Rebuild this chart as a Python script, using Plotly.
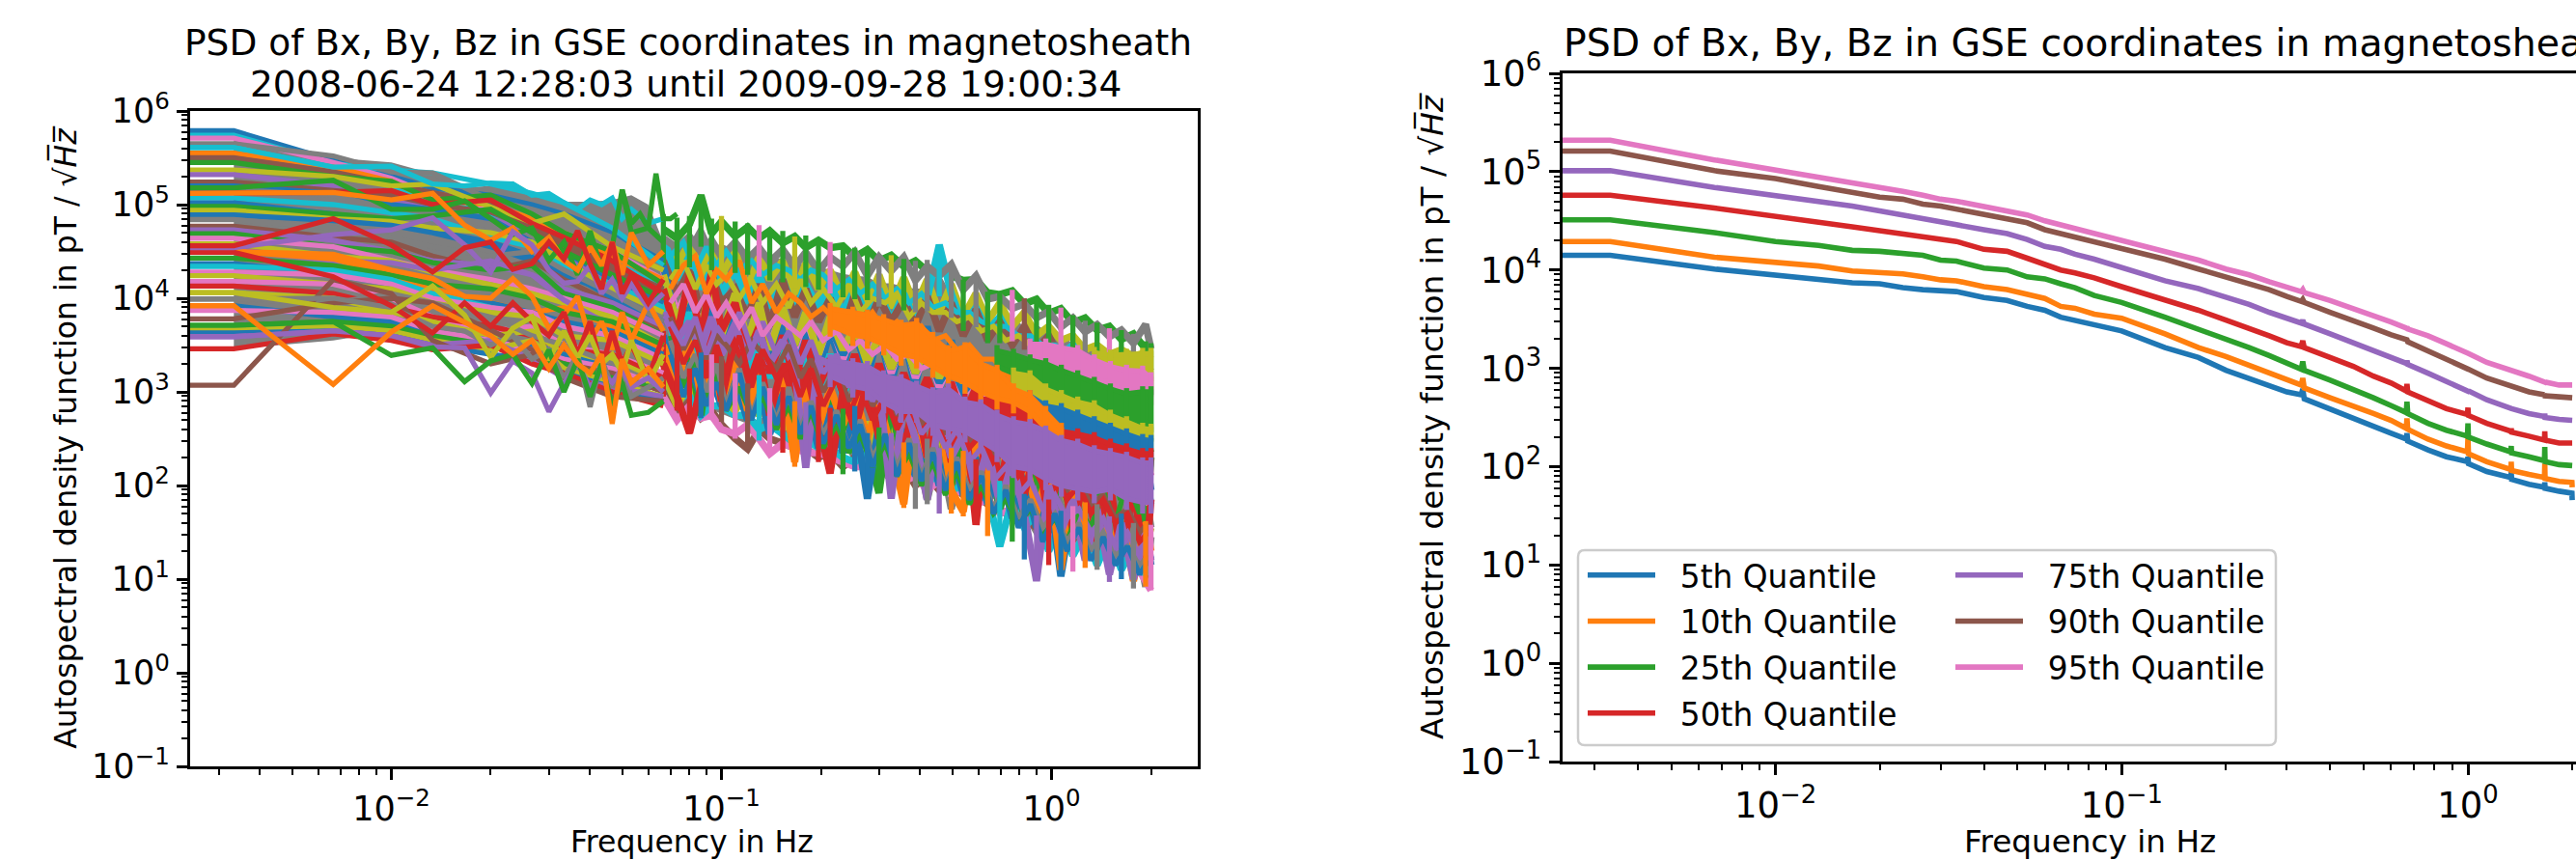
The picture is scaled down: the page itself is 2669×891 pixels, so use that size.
import plotly.graph_objects as go

W, H = 2669, 891
TAB = {"blue":"#1f77b4","orange":"#ff7f0e","green":"#2ca02c","red":"#d62728","purple":"#9467bd",
       "brown":"#8c564b","pink":"#e377c2","gray":"#7f7f7f","olive":"#bcbd22","cyan":"#17becf"}
EDGE_HZ = 0.0024      # the lines run flat to the left spine
BIN_HZ = 1/300

# ---------- right panel: quantiles, log10 of value, at frequency bin k ----------
K_Q = [1,2,3,4,5,6,7,8,9,10,12,14,16,18,20,22,25,30,40,50,60,70,80,90,99,100,101,120,140,160,180,199,200,201,230,260,299,300,301,340,399,400,401,450,499,500,501,550,599,600]
Q05 = [4.15,4.01,3.95,3.91,3.87,3.86,3.82,3.80,3.79,3.78,3.72,3.69,3.63,3.59,3.52,3.49,3.45,3.38,3.21,3.11,2.98,2.90,2.82,2.76,2.73,2.79,2.69,2.58,2.49,2.41,2.34,2.28,2.34,2.26,2.17,2.10,2.05,2.10,2.03,1.95,1.89,1.95,1.87,1.82,1.79,1.84,1.78,1.75,1.73,1.66]
Q10 = [4.29,4.13,4.07,4.04,3.99,3.98,3.96,3.93,3.90,3.89,3.83,3.80,3.75,3.71,3.63,3.61,3.55,3.51,3.35,3.21,3.12,3.03,2.95,2.88,2.83,2.90,2.80,2.70,2.62,2.54,2.47,2.39,2.49,2.38,2.28,2.21,2.15,2.30,2.13,2.05,1.97,2.05,1.96,1.92,1.89,2.03,1.88,1.85,1.84,1.79]
Q25 = [4.51,4.38,4.29,4.25,4.20,4.19,4.17,4.15,4.10,4.09,4.02,4.00,3.93,3.91,3.86,3.82,3.74,3.67,3.52,3.40,3.30,3.21,3.13,3.06,2.99,3.07,2.98,2.88,2.79,2.70,2.62,2.55,2.66,2.54,2.44,2.37,2.31,2.44,2.30,2.23,2.15,2.21,2.14,2.10,2.06,2.20,2.05,2.02,2.01,2.01]
Q50 = [4.76,4.63,4.54,4.48,4.44,4.40,4.37,4.34,4.32,4.29,4.21,4.19,4.12,4.06,4.00,3.97,3.92,3.83,3.70,3.59,3.49,3.41,3.33,3.26,3.22,3.28,3.21,3.11,3.02,2.92,2.85,2.77,2.84,2.76,2.67,2.59,2.53,2.60,2.52,2.44,2.36,2.39,2.35,2.31,2.27,2.36,2.27,2.24,2.24,2.24]
Q75 = [5.01,4.84,4.76,4.69,4.65,4.60,4.56,4.53,4.50,4.46,4.41,4.37,4.31,4.24,4.21,4.16,4.11,4.02,3.89,3.81,3.73,3.65,3.57,3.51,3.46,3.49,3.45,3.35,3.26,3.18,3.11,3.05,3.08,3.04,2.95,2.86,2.77,2.78,2.77,2.68,2.59,2.60,2.59,2.54,2.51,2.54,2.50,2.48,2.47,2.47]
Q90 = [5.21,5.01,4.93,4.85,4.79,4.74,4.72,4.67,4.65,4.62,4.57,4.53,4.48,4.41,4.37,4.33,4.28,4.21,4.11,4.01,3.93,3.86,3.80,3.73,3.68,3.70,3.67,3.57,3.49,3.41,3.34,3.28,3.29,3.27,3.18,3.09,2.99,3.00,2.99,2.90,2.82,2.83,2.82,2.76,2.73,2.74,2.72,2.71,2.70,2.70]
Q95 = [5.32,5.12,5.02,4.94,4.89,4.84,4.80,4.76,4.72,4.70,4.65,4.60,4.56,4.50,4.46,4.42,4.37,4.30,4.19,4.10,4.01,3.95,3.88,3.83,3.78,3.80,3.77,3.69,3.61,3.54,3.47,3.41,3.42,3.40,3.33,3.25,3.16,3.16,3.15,3.06,2.98,2.99,2.98,2.92,2.86,2.87,2.86,2.83,2.83,2.83]
Q_NAMES = ["5th Quantile","10th Quantile","25th Quantile","50th Quantile","75th Quantile","90th Quantile","95th Quantile"]
Q_SERIES = [Q05,Q10,Q25,Q50,Q75,Q90,Q95]
Q_COLORS = ["blue","orange","green","red","purple","brown","pink"]

# ---------- left panel: the flat stripes at low frequency (log10) ----------
K_S = [1,2,3,4,6,8,10,14,20]
S_COLORS = ["blue","cyan","pink","gray","cyan","orange","brown","green","olive","purple","brown","blue","gray","red","cyan","blue","green","olive","blue","gray","brown","purple","green","pink","olive","purple","orange","green","blue","cyan","pink","olive","pink","red","olive","gray","blue","pink","brown","green","olive","blue","purple","red","brown"]
STRIPES = [
[5.79,5.47,5.30,5.18,5.10,5.00,4.90,4.70,4.40],[5.74,5.44,5.37,5.34,5.22,5.12,5.02,4.75,4.35],[5.71,5.45,5.28,5.10,4.95,4.85,4.70,4.50,4.20],
[5.65,5.52,5.35,5.34,5.05,4.95,4.85,4.65,4.30],[5.61,5.40,5.20,5.05,4.90,4.80,4.60,4.40,4.10],[5.55,5.40,5.25,5.05,5.00,4.85,4.70,4.45,4.20],
[5.50,5.35,5.22,5.12,5.00,4.75,4.55,4.30,4.05],[5.45,5.30,5.25,5.05,5.10,4.90,4.70,4.50,4.15],[5.37,5.30,5.20,5.22,4.98,4.80,4.90,4.55,4.30],
[5.32,5.20,5.05,4.95,4.85,4.70,4.45,4.20,4.00],[5.24,5.15,5.10,5.00,4.92,4.75,4.60,4.35,4.10],[5.20,5.12,5.00,4.95,4.85,4.60,4.50,4.20,3.95],
[5.16,5.10,4.95,4.90,4.70,4.50,4.30,4.05,3.80],[5.12,5.13,5.15,5.00,5.05,4.80,4.65,4.40,4.05],[5.07,5.00,4.92,4.85,4.65,4.55,4.35,4.15,3.90],
[5.02,4.90,4.80,4.72,4.60,4.45,4.25,4.05,3.75],[4.98,4.90,4.85,4.88,4.95,4.70,4.50,4.25,4.00],[4.94,4.85,4.82,4.75,4.70,4.60,4.40,4.10,3.85],
[4.89,4.83,4.78,4.70,4.55,4.40,4.30,4.00,3.70],[4.84,4.75,4.65,4.55,4.45,4.50,4.30,4.05,3.75],[4.77,4.65,4.60,4.45,4.30,4.40,4.20,3.95,3.65],
[4.73,4.62,4.50,4.40,4.35,4.25,4.10,3.95,3.70],[4.69,4.55,4.50,4.38,4.30,4.35,4.05,3.90,3.60],[4.64,4.55,4.40,4.30,4.20,4.10,4.00,3.85,3.60],
[4.58,4.45,4.40,4.28,4.15,4.05,3.95,3.80,3.50],[4.52,4.40,4.38,4.30,4.40,4.25,3.98,3.70,3.45],[4.50,4.42,4.25,4.10,3.95,3.85,3.90,3.70,3.45],
[4.43,4.35,4.25,4.15,4.10,4.00,3.85,3.75,3.50],[4.37,4.25,4.15,4.00,3.95,3.85,3.75,3.65,3.40],[4.34,4.30,4.20,4.05,3.90,3.80,3.70,3.60,3.35],
[4.28,4.25,4.15,4.00,3.90,3.85,3.70,3.60,3.35],[4.24,4.15,4.10,3.95,3.85,3.80,3.60,3.55,3.30],[4.18,4.15,4.00,3.80,3.65,3.70,3.50,3.40,3.20],
[4.13,4.05,3.90,3.80,3.70,3.60,3.45,3.40,3.15],[4.06,4.00,3.85,3.75,3.60,3.65,3.40,3.35,3.10],[3.99,3.95,4.05,3.95,3.80,3.60,3.50,3.30,3.05],
[3.92,3.80,3.75,3.65,3.55,3.50,3.40,3.25,3.00],[3.87,3.85,3.80,3.65,3.55,3.45,3.35,3.25,3.05],[3.78,3.95,4.00,3.95,3.65,3.45,3.30,3.20,3.00],
[3.71,3.75,3.70,3.60,3.50,3.35,3.30,3.15,3.05],[3.67,3.70,3.65,3.55,3.45,3.55,3.25,3.10,2.95],[3.63,3.65,3.60,3.50,3.40,3.35,3.20,3.05,2.90],
[3.59,3.65,3.60,3.50,3.55,3.35,3.15,3.05,2.95],[3.46,3.62,3.55,3.45,3.50,3.30,3.20,3.00,2.85],[3.07,4.20,4.05,3.55,3.30,3.40,3.15,2.95,2.90],
]

# ---------- left panel: single lines that stand out at low frequency ----------
K_F = [1,2,3,4,5,6,7,8,9,10,11,12,13,14,15,16,18,20]
F_COLORS = ["cyan","green","orange","gray","orange","red","olive","purple","red","purple","green","orange"]
FEATURES = [
[5.61,5.40,5.41,5.22,5.20,5.23,5.22,5.10,5.12,5.02,4.95,5.05,5.00,5.07,4.85,4.95,4.80,4.85],
[5.18,5.26,4.95,4.95,5.04,4.85,4.68,4.75,4.40,4.60,4.25,4.72,4.30,4.55,5.16,4.70,4.75,4.60],
[5.12,5.13,5.05,5.12,4.78,4.62,4.75,4.50,4.65,4.40,4.30,4.55,4.35,4.60,4.25,4.70,4.35,4.50],
[3.99,4.00,3.90,3.70,3.65,3.50,3.60,3.35,3.45,3.15,3.40,2.84,3.35,3.05,3.25,2.95,3.05,3.15],
[4.50,4.47,4.30,4.21,4.02,4.00,4.21,4.02,3.68,3.82,4.02,3.55,3.75,3.45,3.85,3.55,3.95,3.65],
[4.49,4.23,3.92,3.63,3.95,3.70,3.95,3.75,3.60,3.85,3.40,3.75,3.25,3.65,3.30,3.50,3.15,3.60],
[4.06,3.90,3.85,4.13,3.82,3.37,3.68,3.80,3.34,3.65,3.36,3.60,3.30,3.40,3.20,3.55,3.10,3.40],
[4.54,4.68,4.73,4.86,4.57,4.28,4.71,4.57,4.30,4.16,4.18,4.35,4.05,4.20,4.00,4.15,3.90,4.05],
[4.56,4.85,4.57,4.28,4.54,4.60,4.31,4.37,4.60,4.42,4.72,4.37,4.10,4.60,4.05,4.25,3.95,4.20],
[3.59,3.65,3.60,3.48,3.47,2.99,3.33,3.20,2.79,3.09,3.30,3.05,3.20,3.10,3.25,3.05,3.15,3.00],
[3.71,3.75,3.39,3.47,3.11,3.33,3.40,3.09,3.45,3.00,3.35,2.95,3.30,2.85,3.10,2.75,2.78,2.90],
[3.92,3.08,3.64,3.92,3.75,3.60,3.40,3.55,3.25,3.50,3.30,3.20,3.40,2.66,3.35,3.10,3.25,3.05],
]
K_PEAK = [15,16,17,18,19,20,21,22]
PEAK_GREEN = [5.16,4.80,4.90,4.75,5.33,4.85,4.85,4.90]

# ---------- left panel: outline of the whole bundle (log10) ----------
K_ENV_LOW = [1,2,3,4,5,6,7,8,9,10,12,14,16,18]
ENV_LOW_TOP = [5.79,5.50,5.45,5.33,5.18,5.20,5.25,5.12,5.12,5.03,5.03,5.05,5.10,5.00]
ENV_LOW_BOT = [3.46,3.55,3.65,3.55,3.45,3.45,3.45,3.35,3.30,3.20,3.10,3.05,2.95,2.95]
K_BODY = [20,22,24,26,28,30,33,36,39,42,46,50,54,59,64,70,76,83,90,98,107,116,126,137,149,162,177,192,209,228,248,270,294,320,348,379,412,449,488,531,578,600]
ENV_TOP = [4.90,4.86,4.88,5.10,4.85,4.88,4.82,4.80,4.78,4.74,4.72,4.66,4.67,4.64,4.60,4.56,4.54,4.53,4.46,4.46,4.42,4.40,4.41,4.57,4.34,4.20,4.24,4.07,4.07,4.09,4.00,4.02,3.93,3.90,3.82,3.76,3.74,3.68,3.66,3.62,3.54,3.52]
ENV_BOT = [2.95,2.80,2.55,2.72,2.70,2.68,2.50,2.39,2.48,2.34,2.35,2.20,2.19,2.25,2.13,2.12,2.15,1.86,1.92,1.86,1.76,1.75,1.80,1.70,1.70,1.67,1.58,1.46,1.35,1.40,1.21,0.98,1.15,1.03,1.08,1.12,1.10,0.97,1.00,0.90,0.92,0.88]
# colour of the spike that reaches the outline at each K_BODY bin
ENV_TOP_COLORS = ["green","green","green","green","green","olive","green","green","pink","green","green","olive","green","green","pink","green","green","green","gray","olive","green","gray","gray","cyan","gray","green","gray","green","green","pink","brown","green","green","pink","green","gray","green","pink","green","gray","green","green"]
ENV_BOT_COLORS = ["red","red","red","blue","pink","brown","pink","brown","cyan","pink","red","orange","purple","red","red","green","blue","blue","green","purple","orange","gray","gray","purple","orange","orange","red","orange","cyan","green","blue","purple","red","blue","pink","orange","gray","purple","blue","gray","orange","pink"]

# ---------- left panel: jagged lines across the body (log10 at K_BODY) ----------
M_COLORS = ["gray","brown","pink","cyan","olive","gray","green","blue","orange","green","blue","olive","cyan","pink","gray","brown","blue","cyan","olive","red","red","purple"]
MASS = [
[3.00,2.80,3.05,2.90,2.85,2.80,2.75,2.70,2.65,2.75,2.55,2.70,2.50,2.65,2.35,2.55,2.30,2.60,2.15,2.50,2.05,2.45,1.85,2.40,1.75,2.35,1.85,2.30,1.75,2.15,1.55,2.05,1.35,1.95,1.30,1.85,1.25,1.70,1.20,1.60,0.92,1.45],
[3.05,2.75,2.90,2.72,2.80,2.65,2.50,2.39,2.60,2.50,2.45,2.40,2.40,2.30,2.35,2.20,2.30,2.15,2.25,2.05,2.20,2.00,2.10,1.95,2.00,1.90,1.90,1.80,1.75,1.65,1.65,1.55,1.50,1.45,1.40,1.35,1.30,1.25,1.20,1.15,1.10,1.05],
[2.95,2.70,2.85,2.72,2.75,2.60,2.55,2.65,2.50,2.34,2.45,2.40,2.35,2.35,2.30,2.25,2.20,2.20,2.10,2.15,2.05,2.10,1.95,2.05,1.90,1.95,1.80,1.85,1.70,1.75,1.60,1.65,1.45,1.55,1.30,1.45,1.20,1.35,1.15,1.20,1.00,0.88],
[3.15,2.90,3.00,2.75,2.85,2.85,2.75,2.75,2.60,2.65,2.55,2.45,2.50,2.40,2.40,2.30,2.25,2.35,2.20,2.25,2.15,2.15,2.05,2.10,1.95,2.00,1.85,1.90,1.35,1.85,1.55,1.70,1.30,1.60,1.25,1.50,1.15,1.45,1.10,1.35,1.05,1.25],
[3.20,2.85,3.10,2.90,3.05,2.95,2.80,3.00,2.75,2.95,2.60,2.90,2.55,2.80,2.50,2.75,2.40,2.80,2.30,2.70,2.35,2.65,2.25,2.55,2.15,2.45,2.05,2.35,1.95,2.25,1.85,2.15,1.75,2.05,1.65,1.95,1.55,1.85,1.45,1.75,1.35,1.55],
[3.90,3.35,3.75,3.25,3.60,3.10,3.45,3.00,3.35,2.95,3.45,2.90,3.30,2.85,3.40,2.75,3.25,2.70,3.15,2.65,3.10,2.55,3.05,2.50,2.95,2.40,2.85,2.35,2.80,2.25,2.60,2.10,2.50,2.05,2.40,1.90,2.20,1.75,2.05,1.65,1.90,1.55],
[3.30,3.00,3.40,2.75,3.50,3.00,3.30,2.70,3.25,2.85,3.10,2.60,3.05,2.45,3.00,2.60,2.95,2.45,1.92,2.85,2.20,2.80,2.10,2.70,2.00,2.60,1.90,2.40,1.75,2.30,1.65,2.20,1.50,2.15,1.60,2.30,1.90,2.40,1.85,2.45,1.60,2.30],
[3.60,3.10,3.30,2.95,3.15,2.85,3.10,2.70,3.05,2.55,3.00,2.50,2.95,2.40,2.85,2.35,2.75,1.86,2.65,2.25,2.60,2.10,2.50,2.00,2.40,1.90,2.30,1.80,2.20,1.65,2.10,1.55,2.00,1.03,1.80,1.35,1.70,1.25,1.60,1.10,1.45,1.15],
[3.50,3.05,3.60,2.95,3.40,2.90,3.35,2.80,3.20,2.85,3.15,2.25,3.10,2.60,3.05,2.65,3.00,2.50,2.90,2.40,1.80,2.80,2.30,2.75,1.95,1.72,2.60,2.10,2.50,1.95,2.35,1.70,2.20,1.10,1.95,1.30,1.80,1.20,1.70,0.98,1.60,1.30],
[4.74,4.64,4.79,5.10,4.69,4.82,4.66,4.76,4.64,4.72,4.59,4.66,4.54,4.62,4.54,4.56,4.44,4.52,4.40,4.46,4.34,4.40,4.29,4.34,4.24,4.19,4.20,4.06,4.04,4.08,3.94,3.99,3.84,3.89,3.74,3.79,3.66,3.70,3.56,3.62,3.46,3.48],
[4.25,3.55,4.05,3.40,3.90,3.60,3.85,3.35,3.80,3.45,3.75,3.30,3.70,3.20,3.65,3.25,3.75,3.15,3.65,3.10,3.60,3.05,3.70,3.00,3.55,2.95,3.40,2.85,3.30,2.70,3.10,2.55,2.90,2.40,2.75,2.30,2.60,2.15,2.45,2.05,2.30,1.95],
[4.55,4.35,4.60,4.30,4.55,4.25,4.50,4.10,4.45,4.20,4.40,4.05,4.38,4.10,4.30,4.00,4.28,3.95,4.25,3.90,4.22,3.90,4.20,3.85,4.15,3.80,4.05,3.75,3.95,3.70,3.85,3.60,3.70,3.55,3.60,3.45,3.50,3.40,3.45,3.38,3.42,3.35],
[4.65,4.20,4.45,4.10,4.38,4.05,4.30,3.95,4.25,3.90,4.20,3.85,4.15,3.90,4.15,3.85,4.10,3.80,4.10,3.75,4.05,3.75,4.00,4.57,4.05,3.70,3.90,3.65,3.80,3.55,3.65,3.45,3.55,3.40,3.50,3.30,3.40,3.25,3.35,3.20,3.30,3.25],
[4.30,3.85,4.10,3.70,4.05,3.60,3.95,3.55,3.90,3.50,3.85,3.45,3.80,3.40,3.75,3.35,3.70,3.30,3.65,3.20,3.60,3.15,3.45,3.05,3.35,2.95,3.20,2.85,3.05,2.70,2.95,2.60,2.80,2.50,2.70,2.40,2.55,2.30,2.40,2.15,2.25,2.10],
[4.64,4.54,4.66,4.49,4.62,4.44,4.60,4.42,4.54,4.39,4.52,4.34,4.49,4.29,4.44,4.34,4.49,4.24,4.44,4.29,4.44,4.19,4.34,4.24,4.36,4.09,4.24,3.99,4.02,3.89,3.94,3.79,3.86,3.69,3.79,3.64,3.72,3.59,3.66,3.52,3.72,3.46],
[4.40,4.05,4.30,3.85,4.25,3.95,4.10,3.80,4.15,3.70,4.20,3.80,4.10,3.75,4.00,3.65,4.05,3.70,4.00,3.75,3.98,3.70,4.02,3.65,3.95,3.60,3.88,3.55,3.75,3.50,3.70,3.45,3.60,3.35,3.45,3.30,3.38,3.30,3.32,3.25,3.30,3.22],
[4.35,3.70,4.15,3.60,3.95,3.50,3.85,3.55,3.75,3.40,3.70,3.50,3.85,3.45,3.70,3.40,3.60,3.30,3.55,3.25,3.50,3.20,3.40,3.10,3.30,3.00,3.15,2.95,3.05,2.85,2.95,2.75,2.85,2.65,2.75,2.55,2.65,2.45,2.55,2.40,2.45,2.35],
[4.05,3.40,3.85,3.30,3.70,3.45,3.60,3.20,3.55,3.15,3.50,3.05,3.45,3.00,3.40,2.95,3.35,2.85,3.25,2.80,3.20,2.75,3.10,2.70,3.00,2.60,2.95,2.50,2.85,2.40,2.70,2.30,2.60,2.20,2.45,2.10,2.30,2.00,2.20,1.90,2.10,1.80],
[4.25,3.75,4.10,3.65,4.20,3.60,4.05,3.55,3.95,3.45,3.90,3.50,3.85,3.40,3.80,3.45,3.70,3.30,3.60,3.25,3.55,3.20,3.50,3.15,3.40,3.10,3.30,3.00,3.20,2.90,3.05,2.80,2.95,2.70,2.80,2.60,2.70,2.50,2.60,2.40,2.50,2.35],
[3.30,2.95,2.56,3.05,3.75,2.90,3.60,3.05,3.40,2.75,3.30,2.90,3.25,2.70,2.13,3.00,2.60,3.10,2.50,3.05,2.35,3.00,2.30,2.95,2.25,2.90,1.58,2.75,2.00,2.60,1.90,2.45,1.60,2.30,1.50,2.15,1.40,2.05,1.25,1.95,1.15,1.85],
[4.10,3.60,4.25,3.55,4.30,3.65,3.95,3.40,3.70,3.20,3.60,3.10,3.55,3.05,3.35,3.00,3.40,2.95,3.30,2.90,3.20,2.85,3.15,2.80,3.10,2.70,3.05,2.65,2.95,2.60,2.80,2.50,2.70,2.40,2.60,2.35,2.50,2.30,2.40,2.25,2.35,2.25],
[3.85,3.55,3.75,3.45,3.80,3.40,3.70,3.35,3.65,3.30,3.55,3.25,2.19,3.35,3.30,3.05,3.25,2.95,3.05,1.86,2.90,2.50,1.85,2.75,2.30,2.55,1.95,2.40,1.80,2.25,1.70,0.98,2.00,1.50,1.85,1.20,1.75,1.05,1.60,1.00,1.50,1.20],
]

# ---------- left panel: finer jagged lines between the K_BODY bins (log10) ----------
K_FINE = [21,23,25,27,29,31,34,37,40,44,48,52,56,61,67,73,79,86,94,102,111,121,131,143,155,169,184,200,218,238,259,282,307,334,363,395,430,468,509,554,589]
N_COLORS = ["green","gray","brown","blue","red","purple","pink","cyan","olive","orange"]
FINE = [
[3.60,3.05,3.35,2.95,3.20,2.80,3.05,2.75,2.95,2.60,2.85,2.50,2.80,2.40,2.65,2.35,2.55,2.20,2.45,2.10,2.35,2.00,2.25,1.90,2.15,1.80,2.00,1.70,1.85,1.60,1.75,1.50,1.65,1.40,1.75,1.55,1.95,1.60,2.05,1.70,2.00],
[3.55,3.15,3.40,3.00,3.30,2.85,3.25,2.75,3.10,2.70,3.05,2.60,2.90,2.55,2.80,2.40,2.70,2.30,2.55,2.20,2.50,2.10,2.40,2.00,2.30,1.95,2.15,1.75,2.00,1.65,1.85,1.55,1.70,1.40,1.60,1.30,1.50,1.25,1.35,1.15,1.25],
[3.80,3.45,3.70,3.35,3.60,3.50,3.30,3.55,3.40,3.25,3.50,3.15,3.35,3.00,3.25,2.90,3.15,2.85,3.05,2.75,2.95,2.65,2.85,2.55,2.75,2.45,2.60,2.35,2.45,2.25,2.30,2.10,2.15,1.95,2.05,1.80,1.90,1.65,1.75,1.50,1.60],
[3.40,2.95,3.25,2.85,3.10,2.80,3.20,2.70,3.05,2.65,2.95,2.55,2.85,2.45,2.75,2.40,2.65,2.20,2.55,2.10,2.45,2.05,2.35,1.95,2.25,1.85,2.10,1.70,1.95,1.55,1.80,1.40,1.70,1.30,1.55,1.20,1.45,1.15,1.35,1.05,1.20],
[3.70,3.30,3.55,3.15,3.50,3.20,3.60,3.05,3.45,3.15,3.30,2.95,3.25,2.85,3.15,2.75,3.05,2.70,2.95,2.60,2.85,2.55,2.75,2.45,2.70,2.40,2.55,2.25,2.40,2.10,2.25,2.00,2.10,1.85,2.00,1.70,1.85,1.60,1.70,1.40,1.50],
[3.75,3.50,3.80,3.40,3.70,3.55,3.85,3.45,3.75,3.40,3.65,3.30,3.55,3.20,3.40,3.05,3.30,2.90,3.15,2.80,2.95,2.55,2.70,2.40,2.60,2.25,2.40,2.05,2.20,1.90,2.05,1.75,1.90,1.65,1.75,1.50,1.65,1.35,1.50,1.25,1.35],
[3.95,4.15,3.85,4.05,3.80,3.95,3.70,3.90,3.60,3.80,3.70,3.60,3.75,3.55,3.65,3.45,3.55,3.40,3.50,3.35,3.40,3.25,3.30,3.20,3.15,3.10,3.00,2.90,2.85,2.70,2.65,2.60,2.50,2.40,2.30,2.25,2.15,2.10,2.00,1.90,1.80],
[4.45,4.60,4.30,4.55,4.35,4.50,4.30,4.40,4.25,4.35,4.30,4.20,4.30,4.25,4.10,4.20,4.05,4.15,4.00,4.10,3.95,4.05,3.90,3.95,3.85,3.85,3.75,3.70,3.70,3.60,3.60,3.50,3.50,3.40,3.40,3.30,3.30,3.25,3.25,3.20,3.20],
[4.20,4.40,4.10,4.35,4.15,4.25,4.00,4.20,3.95,4.15,3.90,4.20,3.95,4.10,3.90,4.15,3.85,4.00,3.95,4.05,3.80,3.95,3.85,3.85,3.75,3.80,3.65,3.70,3.55,3.60,3.50,3.45,3.40,3.35,3.30,3.25,3.25,3.20,3.20,3.15,3.10],
[4.10,4.35,4.45,4.05,4.30,4.20,4.40,3.95,4.15,3.85,4.05,3.95,3.80,3.90,3.75,3.85,3.70,3.85,3.65,3.75,3.60,3.70,3.55,3.60,3.45,3.50,3.35,3.35,3.20,3.05,3.00,2.85,2.75,2.65,2.60,2.50,2.45,2.35,2.30,2.25,2.25],
]

# ---------- left panel: solid colour bands at high frequency (log10) ----------
B_COLORS = ["olive","pink","green","olive","blue","red","orange","purple"]
B_K = [
[404,452,506,566,600],
[258,288,321,360,404,452,506,566,600],
[205,230,258,288,321,360,404,452,506,566,600],
[230,258,288,321,360,404,452,506,566,600],
[258,288,321,360,404,452,506,566,600],
[164,183,205,230,258,288,321,360,404,452,506,566,600],
[64,75,83,93,105,117,131,146,164,183,205,230,258,288,321],
[64,75,83,93,105,117,131,146,164,183,205,230,258,288,321,360,404,452,506,566,600],
]
B_UP = [
[3.42,3.39,3.40,3.41,3.41],
[3.51,3.51,3.47,3.44,3.34,3.27,3.23,3.22,3.15],
[3.44,3.40,3.34,3.30,3.23,3.17,3.10,3.03,2.98,3.00,3.00],
[3.20,3.17,3.03,2.96,2.89,2.85,2.75,2.68,2.61,2.60],
[2.96,2.85,2.82,2.75,2.68,2.61,2.55,2.49,2.48],
[2.92,2.92,2.92,2.85,2.79,2.68,2.58,2.55,2.51,2.44,2.39,2.34,2.34],
[3.89,3.85,3.82,3.77,3.71,3.73,3.58,3.44,3.47,3.30,3.23,3.03,2.96,2.79,2.61],
[3.34,3.30,3.27,3.17,3.13,3.06,2.99,3.03,2.89,2.86,2.75,2.68,2.65,2.58,2.48,2.44,2.37,2.34,2.30,2.24,2.24],
]
B_LOW = [
[3.23,3.23,3.20,3.17,3.15],
[3.34,3.34,3.23,3.17,3.13,3.10,2.99,2.98,2.98],
[3.27,3.20,3.13,3.06,2.99,2.89,2.82,2.75,2.68,2.61,2.60],
[3.03,2.93,2.85,2.79,2.75,2.65,2.58,2.55,2.49,2.49],
[2.79,2.68,2.61,2.58,2.48,2.41,2.37,2.34,2.32],
[2.82,2.79,2.72,2.68,2.61,2.55,2.44,2.41,2.34,2.31,2.25,2.24,2.24],
[3.71,3.61,3.58,3.51,3.40,3.37,3.27,3.17,3.10,3.00,2.93,2.89,2.79,2.61,2.51],
[3.17,3.06,3.03,2.89,2.79,2.79,2.65,2.61,2.58,2.48,2.37,2.20,2.17,2.07,2.00,1.96,1.93,1.96,1.86,1.82,1.82],
]

TITLE = "PSD of Bx, By, Bz in GSE coordinates in magnetosheath"
SUBTITLE = "2008-06-24 12:28:03 until 2009-09-28 19:00:34"
XLABEL = "Frequency in Hz"
YLABEL = "Autospectral density function in pT / √<i>H\u0305z\u0305</i>"
XTICK_VALS = [0.01, 0.1, 1]
XTICK_TEXT = ["10<sup>\u22122</sup>", "10<sup>\u22121</sup>", "10<sup>0</sup>"]
YTICK_VALS = [0.1, 1, 10, 100, 1000, 10000, 100000, 1000000]
YTICK_TEXT = ["10<sup>\u22121</sup>", "10<sup>0</sup>", "10<sup>1</sup>", "10<sup>2</sup>", "10<sup>3</sup>", "10<sup>4</sup>", "10<sup>5</sup>", "10<sup>6</sup>"]
YRANGE = [-1, 6]

LFS_L = 31.5; LFS_R = 32.7; TFS_L = 37.5; TFS_R = 39.4; TICK_L = 35; TICK_R = 37; LEG = 32.8; LW = 5.3; MW = 7.5
def hz(ks): return [k*BIN_HZ for k in ks]
def lin(vals): return [10**v for v in vals]
def px(v): return v/W
def py(v): return 1-v/H

fig = go.Figure()
def flat_start(ks, vals): return [EDGE_HZ]+hz(ks), lin([vals[0]]+list(vals))
def add_line(x, y, color, xa="x", ya="y", lw=LW):
    fig.add_trace(go.Scatter(x=x, y=y, mode="lines", line=dict(color=TAB[color], width=lw), xaxis=xa, yaxis=ya, showlegend=False, hoverinfo="skip"))
def add_strokes(ks, a, b, colors, lw=LW):
    # one vertical spike per bin, from the outline value a to b
    for name in TAB:
        xs, ys = [], []
        for k, p, q, c in zip(ks, a, b, colors):
            if c == name:
                xs += [k*BIN_HZ, k*BIN_HZ, None]; ys += [10**p, 10**q, None]
        if xs:
            add_line(xs, ys, name, lw=lw)

# bundle outline as a backing area
fig.add_trace(go.Scatter(x=hz(K_ENV_LOW+K_BODY+K_BODY[::-1]+K_ENV_LOW[::-1]),
                         y=lin(ENV_LOW_TOP+[v-0.3 for v in ENV_TOP]+[v+0.45 for v in ENV_BOT[::-1]]+ENV_LOW_BOT[::-1]),
                         mode="lines", fill="toself", fillcolor=TAB["gray"], line=dict(width=0), showlegend=False, hoverinfo="skip"))
for c, v in zip(M_COLORS, MASS):
    add_line(hz(K_BODY), lin(v), c, lw=MW)
for c, v in zip(N_COLORS, FINE):
    add_line(hz(K_FINE), lin(v), c)
add_strokes(K_BODY, ENV_TOP, [v-0.55 for v in ENV_TOP], ENV_TOP_COLORS)
add_strokes(K_BODY, ENV_BOT, [v+0.7 for v in ENV_BOT], ENV_BOT_COLORS)
for c, v in zip(S_COLORS, STRIPES):
    x, y = flat_start(K_S, v); add_line(x, y, c)
for c, v in zip(F_COLORS, FEATURES):
    x, y = flat_start(K_F, v); add_line(x, y, c)
add_line(hz(K_PEAK), lin(PEAK_GREEN), "green")
for c, ks, up, lo in zip(B_COLORS, B_K, B_UP, B_LOW):
    fig.add_trace(go.Scatter(x=hz(ks+ks[::-1]), y=lin(up+lo[::-1]), mode="lines", fill="toself", fillcolor=TAB[c],
                             line=dict(color=TAB[c], width=LW), showlegend=False, hoverinfo="skip"))
    add_strokes(ks, [v+0.06 for v in up], [v-0.12 for v in lo], [c]*len(ks))

# right panel
for i, (name, c, v) in enumerate(zip(Q_NAMES, Q_COLORS, Q_SERIES)):
    x, y = flat_start(K_Q, v)
    fig.add_trace(go.Scatter(x=x, y=y, mode="lines", name="\u00a0\u00a0"+name, line=dict(color=TAB[c], width=5.6), xaxis="x2", yaxis="y2",
                             legend="legend" if i < 4 else "legend2", legendgroup=name, hoverinfo="skip"))

def axis(size):
    return dict(type="log", showgrid=False, zeroline=False, showline=True, linecolor="black", linewidth=2.5,
                ticks="outside", ticklen=11, tickwidth=2.5, tickcolor="black",
                minor=dict(ticks="outside", ticklen=6, tickwidth=1.8, tickcolor="black", dtick="D1", showgrid=False),
                tickfont=dict(family="DejaVu Sans", size=size, color="black"))
def xax(size): return dict(axis(size), tickmode="array", tickvals=XTICK_VALS, ticktext=XTICK_TEXT)
def yax(size): return dict(axis(size), tickmode="array", tickvals=YTICK_VALS, ticktext=YTICK_TEXT)
fl = dict(family="DejaVu Sans", size=LFS_L, color="black")
fr = dict(family="DejaVu Sans", size=LFS_R, color="black")
tl = dict(family="DejaVu Sans", size=TFS_L, color="black")
tr = dict(family="DejaVu Sans", size=TFS_R, color="black")
lg = dict(xanchor="left", yanchor="top", bgcolor="rgba(0,0,0,0)", borderwidth=0,
          font=dict(family="DejaVu Sans", size=LEG, color="black"), itemwidth=70, tracegroupgap=2, itemclick=False, itemdoubleclick=False)
fig.update_layout(
    width=W, height=H, autosize=False, margin=dict(l=0, r=0, t=0, b=0, autoexpand=False), paper_bgcolor="white", plot_bgcolor="white",
    xaxis=dict(xax(TICK_L), domain=[px(196.5), px(1241)], range=[-2.611, 0.4427], mirror=True, anchor="y"),
    yaxis=dict(yax(TICK_L), domain=[py(794), py(115)], range=YRANGE, mirror=True, anchor="x",
               title=dict(text=YLABEL, font=fl, standoff=7)),
    xaxis2=dict(xax(TICK_R), domain=[px(1618.5), 1], range=[-2.616, 0.312], mirror=True, anchor="y2"),
    yaxis2=dict(yax(TICK_R), domain=[py(789), py(76)], range=YRANGE, anchor="x2",
                title=dict(text=YLABEL, font=fr, standoff=7)),
    legend=dict(lg, x=px(1640), y=py(568)),
    legend2=dict(lg, x=px(2021), y=py(568)),
    annotations=[
        dict(text=TITLE, xref="paper", yref="paper", x=px(713), y=py(44), xanchor="center", yanchor="middle", showarrow=False, font=tl),
        dict(text=SUBTITLE, xref="paper", yref="paper", x=px(711), y=py(87), xanchor="center", yanchor="middle", showarrow=False, font=tl),
        dict(text=TITLE, xref="paper", yref="paper", x=px(1618), y=py(44), xanchor="left", yanchor="middle", showarrow=False, font=tr),
        dict(text=XLABEL, xref="paper", yref="paper", x=px(717), y=py(872), xanchor="center", yanchor="middle", showarrow=False, font=fl),
        dict(text=XLABEL, xref="paper", yref="paper", x=px(2165), y=py(872), xanchor="center", yanchor="middle", showarrow=False, font=fr),
    ],
)
x0, x1, y0, y1, r = 1635, 2358, 570, 772, 7
def P(a, b): return f"{px(a):.6f} {py(b):.6f}"
frame = (f"M {P(x0+r,y0)} L {P(x1-r,y0)} Q {P(x1,y0)} {P(x1,y0+r)} L {P(x1,y1-r)} Q {P(x1,y1)} {P(x1-r,y1)} "
         f"L {P(x0+r,y1)} Q {P(x0,y1)} {P(x0,y1-r)} L {P(x0,y0+r)} Q {P(x0,y0)} {P(x0+r,y0)} Z")
fig.add_shape(type="path", path=frame, xref="paper", yref="paper", line=dict(color="#cccccc", width=2.5), fillcolor="white", layer="above")

fig.write_html("out.html", include_plotlyjs=True, config=dict(displayModeBar=False),
               post_script="document.body.style.margin='0';document.body.style.overflow='hidden';")
